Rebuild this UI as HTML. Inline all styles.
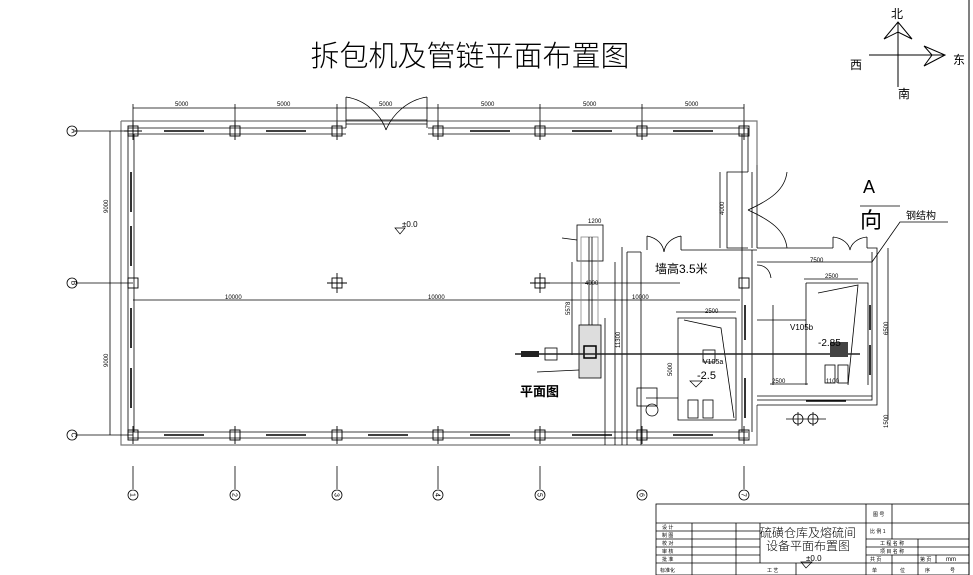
<!DOCTYPE html>
<html><head><meta charset="utf-8"><style>
body{margin:0;background:#fff}
svg{display:block}
text{font-family:"Liberation Sans","Noto Sans CJK SC",sans-serif;fill:#000}
.t{font-size:6px}
</style></head><body>
<svg width="973" height="575" viewBox="0 0 973 575" xmlns="http://www.w3.org/2000/svg">
<rect width="973" height="575" fill="#fff"/>
<line x1="969" y1="0" x2="969" y2="575" stroke="#000" stroke-width="1"/>
<text x="470" y="66" font-size="29" text-anchor="middle" font-family="'Noto Sans CJK SC',sans-serif" style="font-weight:200" fill="#222">拆包机及管链平面布置图</text>
<g stroke="#000" fill="none" stroke-width="1">
<line x1="898" y1="22" x2="898" y2="87"/>
<line x1="869" y1="55" x2="945" y2="55"/>
<polyline points="884,39 898,22 912,39 898,32 884,39"/>
<polyline points="924,46 945,55 924,66 932,55 924,46"/>
</g>
<text x="891" y="18" font-size="12">北</text>
<text x="850" y="69" font-size="12">西</text>
<text x="953" y="64" font-size="12">东</text>
<text x="898" y="98" font-size="12">南</text>

<g stroke="#000" fill="none" stroke-width="0.8">
<path d="M121,121 H757 V165 M121,121 V445 H757 V405" stroke="#777" stroke-width="1.2"/>
<line x1="128" y1="128" x2="346" y2="128"/><line x1="128" y1="134" x2="346" y2="134"/>
<line x1="428" y1="128" x2="748" y2="128"/><line x1="428" y1="134" x2="748" y2="134"/>
<line x1="128" y1="432" x2="748" y2="432"/><line x1="128" y1="438" x2="748" y2="438"/>
<line x1="128" y1="128" x2="128" y2="438"/><line x1="134" y1="134" x2="134" y2="432"/>
<line x1="742" y1="134" x2="742" y2="432"/><line x1="748" y1="128" x2="748" y2="172"/>
<path d="M346,128 V97 M427,128 V97 M346,97 C366,100 381,115 386,130 M427,97 C407,100 392,115 386,130"/>
<line x1="346" y1="120" x2="427" y2="120"/><line x1="346" y1="124" x2="427" y2="124"/>
<g stroke-width="1.6">
<line x1="164" y1="131" x2="204" y2="131"/><line x1="266" y1="131" x2="306" y2="131"/>
<line x1="470" y1="131" x2="510" y2="131"/><line x1="572" y1="131" x2="612" y2="131"/><line x1="673" y1="131" x2="713" y2="131"/>
<line x1="164" y1="435" x2="204" y2="435"/><line x1="266" y1="435" x2="306" y2="435"/><line x1="368" y1="435" x2="408" y2="435"/>
<line x1="470" y1="435" x2="510" y2="435"/><line x1="572" y1="435" x2="612" y2="435"/><line x1="673" y1="435" x2="713" y2="435"/>
<line x1="131" y1="172" x2="131" y2="212"/><line x1="131" y1="226" x2="131" y2="266"/>
<line x1="131" y1="308" x2="131" y2="348"/><line x1="131" y1="368" x2="131" y2="408"/>
<line x1="745" y1="305" x2="745" y2="340"/><line x1="745" y1="378" x2="745" y2="418"/>
<line x1="870" y1="305" x2="870" y2="330"/><line x1="870" y1="345" x2="870" y2="375"/>
<line x1="806" y1="401" x2="846" y2="401"/>
</g>
<line x1="133" y1="108" x2="744" y2="108"/>
<g>
<line x1="133" y1="104" x2="133" y2="131"/><line x1="235" y1="104" x2="235" y2="131"/><line x1="337" y1="104" x2="337" y2="131"/>
<line x1="438" y1="104" x2="438" y2="131"/><line x1="540" y1="104" x2="540" y2="131"/><line x1="642" y1="104" x2="642" y2="131"/><line x1="744" y1="104" x2="744" y2="131"/>
</g>
<line x1="110" y1="131" x2="110" y2="435"/>
<line x1="77" y1="131" x2="133" y2="131"/><line x1="77" y1="283" x2="133" y2="283"/><line x1="77" y1="435" x2="133" y2="435"/>
<circle cx="72" cy="131" r="5"/><circle cx="72" cy="283" r="5"/><circle cx="72" cy="435" r="5"/>
<g>
<line x1="133" y1="466" x2="133" y2="489"/><circle cx="133" cy="495" r="5"/>
<line x1="235" y1="466" x2="235" y2="489"/><circle cx="235" cy="495" r="5"/>
<line x1="337" y1="466" x2="337" y2="489"/><circle cx="337" cy="495" r="5"/>
<line x1="438" y1="466" x2="438" y2="489"/><circle cx="438" cy="495" r="5"/>
<line x1="540" y1="466" x2="540" y2="489"/><circle cx="540" cy="495" r="5"/>
<circle cx="642" cy="495" r="5"/>
<line x1="744" y1="466" x2="744" y2="489"/><circle cx="744" cy="495" r="5"/>
</g>
<g stroke-width="0.9">
<rect x="128" y="126" width="10" height="10"/><rect x="230" y="126" width="10" height="10"/><rect x="332" y="126" width="10" height="10"/>
<rect x="433" y="126" width="10" height="10"/><rect x="535" y="126" width="10" height="10"/><rect x="637" y="126" width="10" height="10"/><rect x="739" y="126" width="10" height="10"/>
<rect x="128" y="430" width="10" height="10"/><rect x="230" y="430" width="10" height="10"/><rect x="332" y="430" width="10" height="10"/>
<rect x="433" y="430" width="10" height="10"/><rect x="535" y="430" width="10" height="10"/><rect x="637" y="430" width="10" height="10"/><rect x="739" y="430" width="10" height="10"/>
<rect x="128" y="278" width="10" height="10"/><rect x="332" y="278" width="10" height="10"/><rect x="535" y="278" width="10" height="10"/><rect x="739" y="278" width="10" height="10"/>
<path d="M133,122 V140 M235,122 V140 M337,122 V140 M438,122 V140 M540,122 V140 M642,122 V140 M744,122 V140 M124,131 H142"/>
<path d="M133,426 V444 M235,426 V444 M337,426 V444 M438,426 V444 M540,426 V444 M642,426 V444 M744,426 V444"/>
<path d="M337,273 V293 M540,273 V293 M327,283 H347 M530,283 H550"/>
</g>
<line x1="133" y1="300" x2="740" y2="300"/>
<line x1="545" y1="283" x2="680" y2="283"/>
<path d="M748,172 H727 V248 H748 M757,165 V248 M752,172 V248"/>
<path d="M748,210 C770,200 785,190 787,172 M748,210 C770,220 785,230 787,248"/>
<line x1="720" y1="172" x2="720" y2="248"/>
<path d="M622,445 V247 M627,445 V252 M641,445 V252 M627,252 H641"/>
<path d="M647,250 V236 M681,250 V236 M647,236 C657,238 663,244 664,252 M681,236 C671,238 665,244 664,252"/>
<path d="M681,250 H757 M833,248 H757 M833,248 V237 M867,237 V248 M833,237 C843,238 849,244 850,250 M867,237 C857,238 851,244 850,250"/>
<path d="M752,250 V432 M757,265 C765,265 770,270 771,278"/>
<path d="M867,248 H877 V405 H757 M872,252 V400 H757 M757,396 H872"/>
<line x1="888" y1="248" x2="888" y2="420"/>
<line x1="757" y1="262" x2="872" y2="262"/>
<line x1="804" y1="279" x2="858" y2="279"/>
<path d="M806,283 H868 V385 M806,283 V385"/>
<path d="M818,293 L858,285 L848,385"/>
<line x1="773" y1="305" x2="773" y2="385"/>
<line x1="806" y1="320" x2="757" y2="320"/>
<rect x="825" y="365" width="10" height="18"/><rect x="838" y="365" width="10" height="18"/>
<line x1="770" y1="384" x2="808" y2="384"/>
<circle cx="798" cy="419" r="5"/><circle cx="813" cy="419" r="5"/>
<path d="M786,419 H826 M798,412 V426 M813,412 V426"/>
<path d="M678,318 H736 V420 H678 Z"/>
<path d="M684,320 L721,328 L734,418"/>
<line x1="676" y1="312" x2="736" y2="312"/>
<rect x="703" y="350" width="12" height="12"/>
<rect x="688" y="400" width="10" height="18"/><rect x="703" y="400" width="10" height="18"/>
<rect x="637" y="388" width="20" height="18"/>
<circle cx="652" cy="410" r="6"/>
<line x1="646" y1="398" x2="678" y2="398"/>
<path d="M872,262 L900,222 H948 M860,206 H900"/>
<rect x="577" y="225" width="26" height="36"/>
<rect x="581" y="237" width="17" height="88" stroke="#888"/>
<line x1="589" y1="237" x2="589" y2="325"/><line x1="592" y1="237" x2="592" y2="325"/>
<rect x="579" y="325" width="22" height="53" fill="#ddd"/>
<rect x="584" y="346" width="12" height="12" stroke-width="1.5"/>
<rect x="545" y="348" width="12" height="12"/>
<line x1="572" y1="262" x2="572" y2="355"/>
<line x1="615" y1="262" x2="615" y2="445"/>
<line x1="605" y1="318" x2="605" y2="445"/>
<line x1="562" y1="238" x2="577" y2="240"/>
<line x1="537" y1="372" x2="579" y2="370"/>
</g>
<line x1="515" y1="354" x2="860" y2="354" stroke="#222" stroke-width="1.6"/>
<rect x="521" y="351" width="18" height="6" fill="#222"/>
<rect x="830" y="342" width="18" height="15" fill="#444"/>

<!-- axis labels -->
<g font-size="7" text-anchor="middle">
<text transform="translate(74,131) rotate(90)" y="2.5">A</text>
<text transform="translate(74,283) rotate(90)" y="2.5">B</text>
<text transform="translate(74,435) rotate(90)" y="2.5">C</text>
<text transform="translate(133,495) rotate(90)" y="2.5">1</text>
<text transform="translate(235,495) rotate(90)" y="2.5">2</text>
<text transform="translate(337,495) rotate(90)" y="2.5">3</text>
<text transform="translate(438,495) rotate(90)" y="2.5">4</text>
<text transform="translate(540,495) rotate(90)" y="2.5">5</text>
<text transform="translate(642,495) rotate(90)" y="2.5">6</text>
<text transform="translate(744,495) rotate(90)" y="2.5">7</text>
</g>

<g class="t">
<text x="175" y="106">5000</text><text x="277" y="106">5000</text><text x="379" y="106">5000</text>
<text x="481" y="106">5000</text><text x="583" y="106">5000</text><text x="685" y="106">5000</text>
<text x="225" y="299">10000</text><text x="428" y="299">10000</text><text x="632" y="299">10000</text>
<text transform="translate(108,213) rotate(-90)">9000</text>
<text transform="translate(108,367) rotate(-90)">9000</text>
<text transform="translate(724,215) rotate(-90)">4000</text>
<text transform="translate(888,335) rotate(-90)">6500</text>
<text transform="translate(888,428) rotate(-90)">1500</text>
<text x="810" y="262">7500</text><text x="825" y="278">2500</text><text x="705" y="313">2500</text>
<text x="588" y="223">1200</text><text x="585" y="285">4000</text>
<text x="772" y="383">2500</text><text x="826" y="383">1100</text>
<text x="790" y="330" font-size="8">V105b</text>
<text x="703" y="364" font-size="7">V105a</text>
<text transform="translate(672,376) rotate(-90)">5000</text>
<text transform="translate(620,348) rotate(-90)">11300</text>
<text transform="translate(570,315) rotate(-90)">5578</text>
</g>
<text x="402" y="227" font-size="8" fill="#1a4a9a">±0.0</text>
<path d="M395,228 L405,228 L400,234 Z" fill="none" stroke="#000" stroke-width="0.7"/>
<text x="697" y="379" font-size="11">-2.5</text>
<path d="M690,381 L702,381 L696,387 Z" fill="none" stroke="#000" stroke-width="0.7"/>
<text x="818" y="346" font-size="10">-2.85</text>
<text x="520" y="396" font-size="13" font-weight="bold">平面图</text>
<text x="655" y="273" font-size="12">墙高3.5米</text>
<text x="863" y="193" font-size="18" font-family="'Liberation Serif',serif">A</text>
<text x="860" y="228" font-size="22" font-family="'Noto Serif CJK SC',serif">向</text>
<text x="906" y="219" font-size="10">钢结构</text>

<g stroke="#000" fill="none" stroke-width="0.8">
<rect x="656" y="504" width="313" height="71"/>
<line x1="656" y1="523" x2="969" y2="523"/>
<line x1="656" y1="531" x2="760" y2="531"/>
<line x1="656" y1="539" x2="760" y2="539"/><line x1="866" y1="539" x2="969" y2="539"/>
<line x1="656" y1="547" x2="760" y2="547"/><line x1="866" y1="547" x2="969" y2="547"/>
<line x1="656" y1="555" x2="760" y2="555"/><line x1="866" y1="555" x2="969" y2="555"/>
<line x1="656" y1="563" x2="969" y2="563"/>
<line x1="692" y1="523" x2="692" y2="575"/><line x1="736" y1="523" x2="736" y2="575"/>
<line x1="760" y1="523" x2="760" y2="563"/><line x1="796" y1="563" x2="796" y2="575"/>
<line x1="866" y1="504" x2="866" y2="575"/><line x1="892" y1="504" x2="892" y2="539"/>
<line x1="918" y1="555" x2="918" y2="575"/><line x1="892" y1="555" x2="892" y2="575"/><line x1="936" y1="555" x2="936" y2="563"/>
<line x1="918" y1="539" x2="918" y2="555"/>
</g>
<text x="760" y="537" font-size="12" font-family="'Noto Sans CJK SC',sans-serif" font-weight="300">硫磺仓库及熔硫间</text>
<text x="766" y="550" font-size="12" font-family="'Noto Sans CJK SC',sans-serif" font-weight="300">设备平面布置图</text>
<text x="806" y="561" font-size="8" fill="#1a4a9a">±0.0</text>
<path d="M801,562 L812,562 L806,568 Z" fill="none" stroke="#000" stroke-width="0.7"/>
<g font-size="5">
<text x="873" y="516">图 号</text><text x="870" y="533">比 例 1</text>
<text x="662" y="529">设 计</text><text x="662" y="537">制 图</text><text x="662" y="545">校 对</text>
<text x="662" y="553">审 核</text><text x="662" y="561">批 准</text><text x="660" y="572">标准化</text>
<text x="880" y="545">工 程 名 称</text><text x="880" y="553">项 目 名 称</text>
<text x="870" y="561">共 页</text><text x="920" y="561">第 页</text><text x="767" y="572">工 艺</text>
<text x="872" y="572">单</text><text x="900" y="572">位</text><text x="925" y="572">序</text><text x="950" y="572">号</text>
</g>
<text x="946" y="561" font-size="6">mm</text>
</svg>
</body></html>
